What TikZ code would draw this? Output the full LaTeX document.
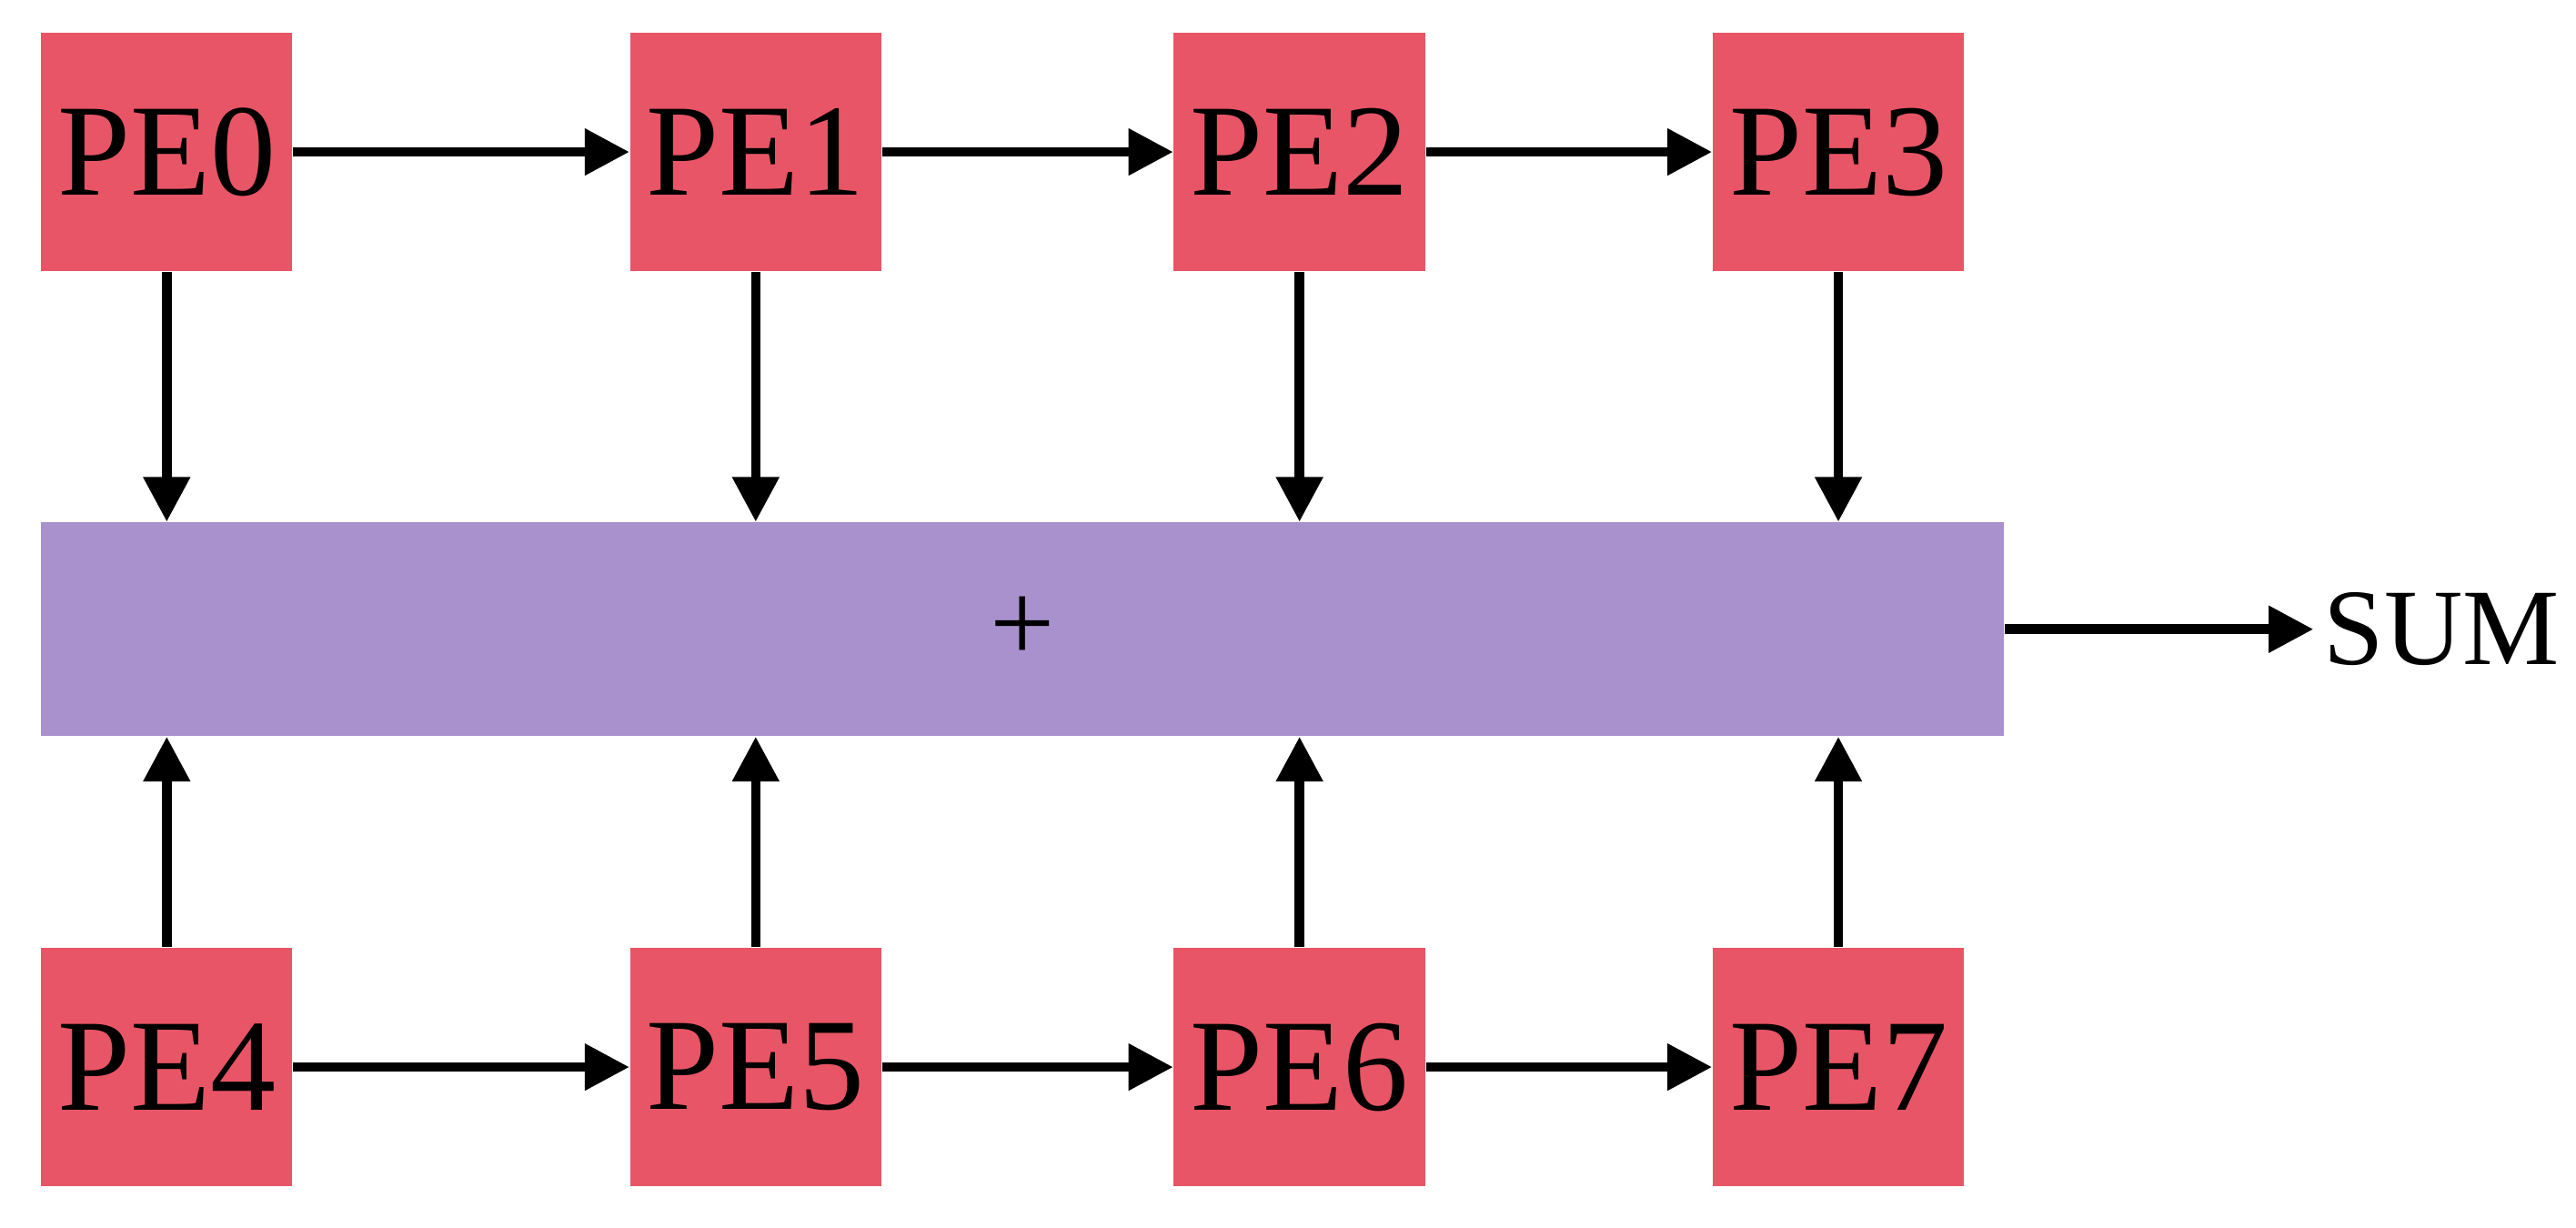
\documentclass[tikz,border=0pt]{standalone}
\usepackage{fontspec}
\setmainfont{Liberation Serif}
\usetikzlibrary{arrows.meta}
\definecolor{pered}{HTML}{E85566}
\definecolor{sumpurple}{HTML}{A891CD}
\begin{document}
\begin{tikzpicture}[x=0.01806cm,y=-0.01806cm,
  pebox/.style={fill=pered,minimum width=153*0.01806cm,minimum height=145*0.01806cm,inner sep=0pt,font=\fontsize{41}{45}\selectfont},
  conn/.style={line width=3pt,-{Triangle[length=14pt,width=14pt]}}]
\useasboundingbox (0,0) rectangle (1568,747);
\node[fill=sumpurple,minimum width=1195*0.01806cm,minimum height=130*0.01806cm,inner sep=0pt,font=\fontsize{36}{40}\selectfont] (bar) at (622.5,383) {+};
\node[pebox] (p0) at (101.5,92.5) {PE0};
\node[pebox] (p1) at (460,92.5) {PE1};
\node[pebox] (p2) at (791,92.5) {PE2};
\node[pebox] (p3) at (1119,92.5) {PE3};
\node[pebox] (p4) at (101.5,649.5) {PE4};
\node[pebox] (p5) at (460,649.5) {PE5};
\node[pebox] (p6) at (791,649.5) {PE6};
\node[pebox] (p7) at (1119,649.5) {PE7};
\node[anchor=west,inner sep=0pt,font=\fontsize{34}{38}\selectfont] (sum) at (1414,383) {SUM};
\draw[conn] (p0) -- (p1);
\draw[conn] (p1) -- (p2);
\draw[conn] (p2) -- (p3);
\draw[conn] (p4) -- (p5);
\draw[conn] (p5) -- (p6);
\draw[conn] (p6) -- (p7);
\foreach \t/\b in {p0/p4,p1/p5,p2/p6,p3/p7}{
  \draw[conn] (\t.south) -- (\t.south |- bar.north);
  \draw[conn] (\b.north) -- (\b.north |- bar.south);
}
\draw[conn] (bar.east) -- ([xshift=-3pt]sum.west);
\end{tikzpicture}
\end{document}
